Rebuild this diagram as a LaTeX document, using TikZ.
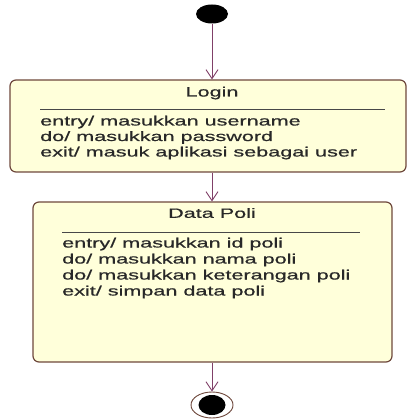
\documentclass[tikz,border=0pt]{standalone}
\usepackage{fontspec}
\setmainfont{Liberation Sans}[FakeStretch=1.6,FakeBold=0.6]
\usetikzlibrary{shapes.geometric,arrows.meta}
\definecolor{statefill}{RGB}{255,255,218}
\definecolor{stateborder}{RGB}{110,72,60}
\definecolor{flow}{RGB}{128,64,104}
\definecolor{txt}{RGB}{40,40,40}
\tikzset{
  statebox/.style={draw=stateborder, fill=statefill, line width=1.2pt, rounded corners=6pt, inner sep=0pt},
  titletxt/.style={font=\fontsize{13.5}{15}\selectfont, text=txt, inner sep=0pt, anchor=center},
  acttxt/.style={font=\fontsize{13.5}{15}\selectfont, text=txt, inner sep=0pt, anchor=west, text height=10pt, text depth=3pt},
  sepline/.style={draw=txt!85, line width=0.8pt},
  flowline/.style={draw=flow, line width=0.9pt, -{Straight Barb[length=9pt,width=12pt,line width=0.9pt]}},
}
\begin{document}
\begin{tikzpicture}[x=1pt,y=-1pt]
\useasboundingbox (0,0) rectangle (406,419);
% start
\node[ellipse, fill=black, minimum width=32pt, minimum height=19pt, inner sep=0pt] (start) at (212,14) {};
% Login
\node[statebox, minimum width=396pt, minimum height=92pt] (login) at (208,126) {};
\node[titletxt] (logintitle) at (212,93) {Login};
\coordinate (ls1) at (40,109);
\coordinate (ls2) at (385,109);
\draw[sepline] (ls1) -- (ls2);
\node[acttxt] (l1) at (40,122) {entry/ masukkan username};
\node[acttxt] (l2) at (40,137.5) {do/ masukkan password};
\node[acttxt] (l3) at (40,153) {exit/ masuk aplikasi sebagai user};
% Data Poli
\node[statebox, minimum width=359pt, minimum height=160pt] (poli) at (212.5,282) {};
\node[titletxt] (polititle) at (212,213) {Data Poli};
\coordinate (ps1) at (62,232);
\coordinate (ps2) at (360,232);
\draw[sepline] (ps1) -- (ps2);
\node[acttxt] (p1) at (62,244) {entry/ masukkan id poli};
\node[acttxt] (p2) at (62,260) {do/ masukkan nama poli};
\node[acttxt] (p3) at (62,276) {do/ masukkan keterangan poli};
\node[acttxt] (p4) at (62,292) {exit/ simpan data poli};
% end
\node[ellipse, draw=stateborder, fill=white, line width=0.9pt, minimum width=42pt, minimum height=26pt, inner sep=0pt] (endouter) at (212,405) {};
\node[ellipse, fill=black, minimum width=27pt, minimum height=20pt, inner sep=0pt] (endinner) at (212,405) {};
% connectors
\draw[flowline] (start.south) -- (start.south |- login.north);
\draw[flowline] (start.south |- login.south) -- (start.south |- poli.north);
\draw[flowline] (start.south |- poli.south) -- (endouter.north);
\end{tikzpicture}
\end{document}
